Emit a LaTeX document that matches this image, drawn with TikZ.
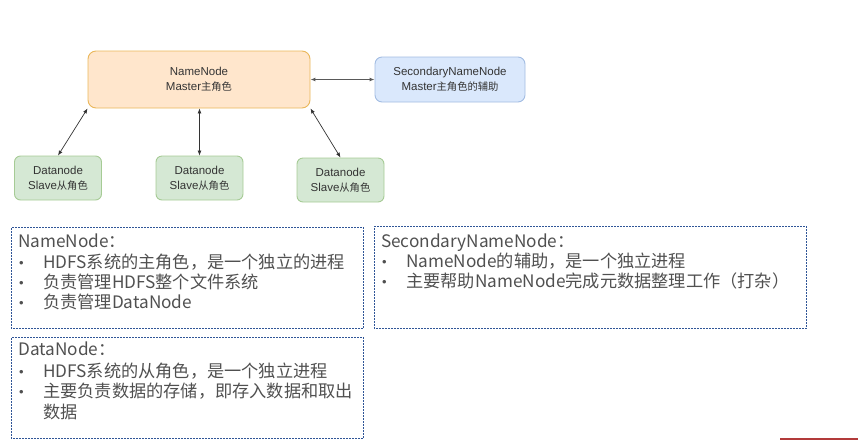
\documentclass[tikz,border=0pt]{standalone}
\usepackage{fontspec}
\setmainfont{Liberation Sans}
\newfontfamily\cjk{Noto Sans CJK SC}
\usetikzlibrary{arrows.meta}
\definecolor{nnfill}{HTML}{FFE6CC}
\definecolor{nndraw}{HTML}{EAB75A}
\definecolor{snnfill}{HTML}{DAE8FC}
\definecolor{snndraw}{HTML}{A2BCE2}
\definecolor{dnfill}{HTML}{D5E8D4}
\definecolor{dndraw}{HTML}{A6CB95}
\definecolor{boxtext}{HTML}{333333}
\definecolor{txtgray}{HTML}{505050}
\definecolor{dotblue}{HTML}{2F5597}
\definecolor{redline}{HTML}{B23A3A}
\newcommand{\zh}[1]{{\cjk\fontsize{10.3}{15}\selectfont #1}}
\begin{document}
\begin{tikzpicture}[x=1pt,y=-1pt,
  box/.style={draw, line width=0.9pt, rounded corners=7pt, align=center, inner sep=0pt,
    text=boxtext, font=\fontsize{11.5}{15}\selectfont},
  nnbox/.style={box, fill=nnfill, draw=nndraw, minimum width=222pt, minimum height=57pt, rounded corners=8pt},
  snnbox/.style={box, fill=snnfill, draw=snndraw, minimum width=150pt, minimum height=45pt},
  dnbox/.style={box, fill=dnfill, draw=dndraw, minimum width=87pt, minimum height=44pt, rounded corners=6pt},
  link/.style={{Latex[length=5pt,width=4pt]}-{Latex[length=5pt,width=4pt]}, line width=0.7pt, draw=black!80},
  slink/.style={link, line width=1.1pt, draw=black!65},
  infobox/.style={draw=dotblue, line width=0.75pt, dash pattern=on 0.75pt off 0.75pt,
    anchor=north west, inner sep=0pt},
  ln/.style={anchor=base west, inner sep=0pt, text=txtgray, font=\cjk\fontsize{17.2}{20}\selectfont},
  bul/.style={anchor=base west, inner sep=0pt, text=txtgray, font=\fontsize{13}{20}\selectfont},
]
\useasboundingbox (0,0) rectangle (858,440);

% top diagram
\node[nnbox] (NN) at (199,79.5) {NameNode\\Master\zh{主角色}};
\node[snnbox] (SNN) at (450,79.5) {SecondaryNameNode\\Master\zh{主角色的辅助}};
\node[dnbox] (DN1) at (58,178) {Datanode\\Slave\zh{从角色}};
\node[dnbox] (DN2) at (199.5,178) {Datanode\\Slave\zh{从角色}};
\node[dnbox] (DN3) at (340.5,180) {Datanode\\Slave\zh{从角色}};

\draw[slink] (NN) -- (SNN);
\draw[link] (NN.south west) -- (DN1.north);
\draw[link] (NN.south -| DN2.north) -- (DN2.north);
\draw[link] (NN.south east) -- (DN3.north);

% info boxes
\node[infobox, minimum width=352pt, minimum height=101pt] (boxA) at (11,227) {};
\node[infobox, minimum width=352pt, minimum height=101pt] (boxB) at (11,337) {};
\node[infobox, minimum width=432pt, minimum height=102pt] (boxC) at (374,226) {};

% box A text
\node[ln] (aH) at (18,247) {NameNode：};
\node[bul] (aB1) at (19,267) {•};
\node[ln] (aT1) at (43,268) {HDFS系统的主角色，是一个独立的进程};
\node[bul] (aB2) at (19,287.5) {•};
\node[ln] (aT2) at (43,288.5) {负责管理HDFS整个文件系统};
\node[bul] (aB3) at (19,307.5) {•};
\node[ln] (aT3) at (43,308.5) {负责管理DataNode};

% box B text
\node[ln] (bH) at (18,355.5) {DataNode：};
\node[bul] (bB1) at (19,376) {•};
\node[ln] (bT1) at (43,377) {HDFS系统的从角色，是一个独立进程};
\node[bul] (bB2) at (19,396.5) {•};
\node[ln] (bT2) at (43,397.5) {主要负责数据的存储，即存入数据和取出};
\node[ln] (bT3) at (43,418) {数据};

% box C text
\node[ln] (cH) at (381,247) {SecondaryNameNode：};
\node[bul] (cB1) at (382,266) {•};
\node[ln] (cT1) at (406,267) {NameNode的辅助，是一个独立进程};
\node[bul] (cB2) at (382,286.5) {•};
\node[ln] (cT2) at (406,287.5) {主要帮助NameNode完成元数据整理工作（打杂）};

% red mark at bottom right
\coordinate (r1) at (780,439);
\coordinate (r2) at (858,439);
\draw[redline, line width=1.4pt] (r1) -- (r2);
\end{tikzpicture}
\end{document}
